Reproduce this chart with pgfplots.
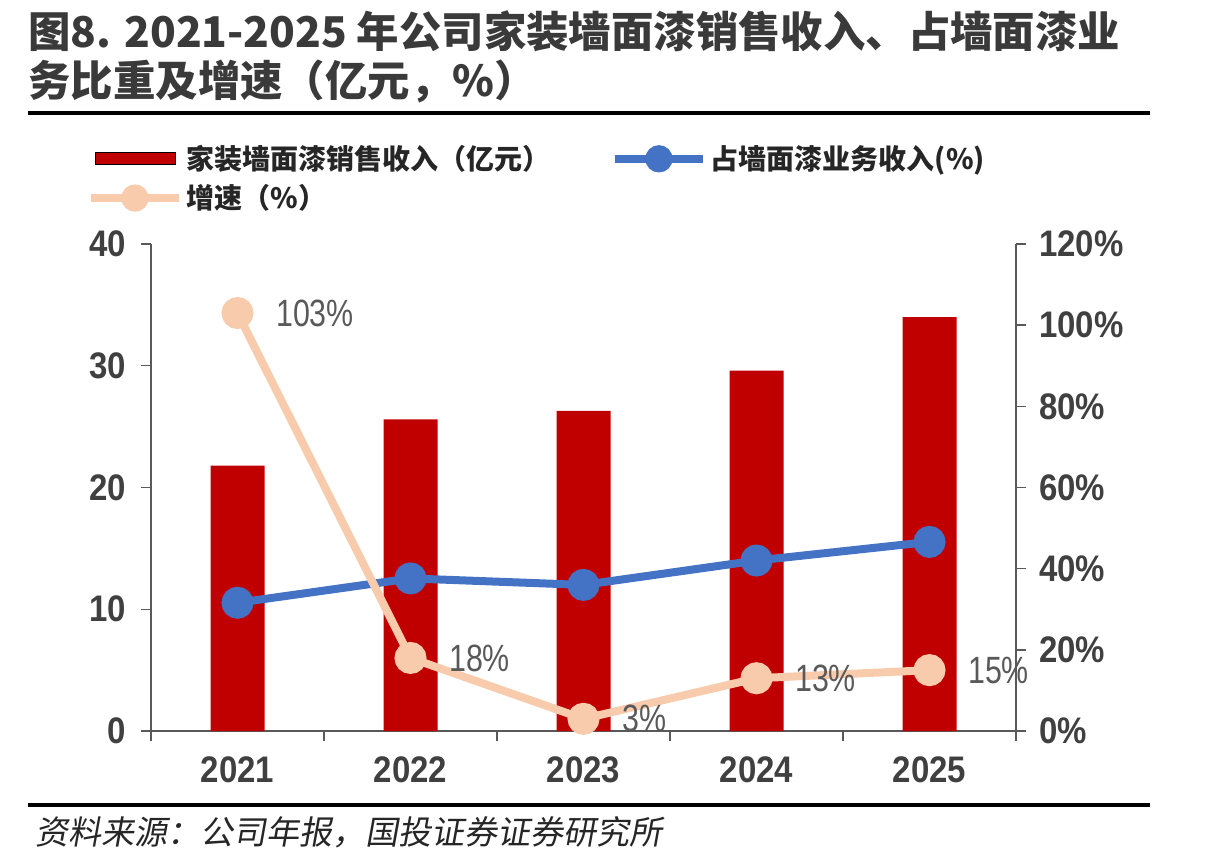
\documentclass[border=0pt]{standalone}
\usepackage{graphicx}
\usepackage{pgfplots}
\pgfplotsset{compat=1.18}
\usepackage{fontspec}
\setmainfont{Liberation Sans}
\newfontfamily\cjk{Noto Sans CJK SC}
\newfontfamily\cjkslant[FakeSlant=0.18]{Noto Sans CJK SC}

\definecolor{barred}{HTML}{C00000}
\definecolor{shareblue}{HTML}{4472C4}
\definecolor{growthpeach}{HTML}{F8CBAD}
\definecolor{axisgray}{HTML}{595959}
\definecolor{labelgray}{HTML}{404040}
\definecolor{valuegray}{HTML}{595959}
\definecolor{titlegray}{HTML}{3A3A3A}

% taller tick digits
\newcommand{\tall}[1]{\scalebox{1}[1.12]{#1}}

\pgfplotsset{
  line legend wide/.style={legend image code/.code={%
    \draw[mark repeat=2,mark phase=2,##1,mark size=4.8pt] plot coordinates {(0pt,0pt) (22pt,0pt) (44pt,0pt)};}},
  bar legend wide/.style={legend image code/.code={%
    \fill[##1] (2pt,-3pt) rectangle (42pt,3pt);}},
  chart frame/.style={
    scale only axis, width=432.5pt, height=243.5pt,
    at={(75.5pt,66.5pt)}, anchor=south west,
    xmin=-0.5, xmax=4.5,
    tick align=outside, major tick length=5pt,
    every tick/.style={axisgray, line width=0.7pt},
    axis line style={axisgray, line width=0.7pt},
    /pgf/number format/assume math mode=true,
    tick label style={font=\bfseries\fontsize{16.5}{18}\selectfont, text=labelgray},
  },
}

% revenue (100 million yuan), share of wall-paint business (%), growth (%)
\pgfplotstableread{
idx revenue share growth
0   21.8    31.6  103
1   25.6    37.6  18
2   26.3    36.0  3
3   29.6    42.0  13
4   34.0    46.6  15
}\paintdata

\begin{document}
\begin{tikzpicture}
\useasboundingbox (0,0) rectangle (609pt,432pt);

% left axis: revenue bars
\begin{axis}[
  chart frame,
  ymin=0, ymax=40, ytick={0,10,20,30,40},
  yticklabel={\tall{\pgfmathprintnumber{\tick}}},
  axis x line*=bottom, axis y line*=left,
  xtick={-0.5,0.5,1.5,2.5,3.5,4.5}, xticklabels={},
  extra x ticks={0,1,2,3,4},
  extra x tick labels={\tall{2021},\tall{2022},\tall{2023},\tall{2024},\tall{2025}},
  extra x tick style={major tick length=0pt, tick label style={yshift=-9.5pt}},
  yticklabel style={xshift=-4pt},
]
\addplot[ybar, bar width=27pt, fill=barred, draw=none] table[x=idx, y=revenue] {\paintdata};
\end{axis}

% right axis: share and growth lines
\begin{axis}[
  chart frame,
  clip=false,
  ymin=0, ymax=120, ytick={0,20,...,120},
  yticklabel={\tall{\pgfmathprintnumber{\tick}\%}},
  yticklabel style={xshift=3pt},
  axis x line=none, axis y line*=right,
  legend columns=2,
  legend cell align=left,
  legend style={at={(-0.0745,1.212)}, anchor=north west, draw=none, fill=none,
    inner sep=0pt, row sep=2pt,
    font=\cjk\bfseries\fontsize{14}{16}\selectfont, text=black!85,
    /tikz/every even column/.append style={column sep=28pt}},
]
\addlegendimage{bar legend wide, fill=barred}
\addlegendentry{家装墙面漆销售收入（亿元）}
\addplot[shareblue, line width=4pt, mark=*, mark size=6pt, line legend wide]
  table[x=idx, y=share] {\paintdata};
\addlegendentry{占墙面漆业务收入(\%)}
\addplot[growthpeach, line width=4pt, mark=*, mark size=6pt, line legend wide,
  point meta=y,
  nodes near coords={\scalebox{0.8}[1]{\pgfmathprintnumber{\pgfplotspointmeta}\%}},
  every node near coord/.append style={anchor=west, xshift=14pt, text=valuegray,
    font=\fontsize{19}{21}\selectfont}]
  table[x=idx, y=growth] {\paintdata};
\addlegendentry{增速（\%）}
\end{axis}

\begin{scope}[x=0.5pt, y=0.5pt]
\node[anchor=west, inner sep=0pt, text=titlegray, font=\cjk\bfseries\fontsize{21.2}{24}\selectfont]
  at (28,833) {图8. 2021-2025 年公司家装墙面漆销售收入、占墙面漆业};
\node[anchor=west, inner sep=0pt, text=titlegray, font=\cjk\bfseries\fontsize{21.2}{24}\selectfont]
  at (28,783) {务比重及增速（亿元，\%）};
\draw[line width=1.6pt, black] (28,751) -- (1150,751);
\draw[line width=1.6pt, black] (28,59) -- (1150,59);
\node[anchor=west, inner sep=0pt, text=black!85, font=\cjkslant\fontsize{16.5}{18}\selectfont]
  at (35,32) {资料来源：公司年报，国投证券证券研究所};
\end{scope}
\end{tikzpicture}
\end{document}
